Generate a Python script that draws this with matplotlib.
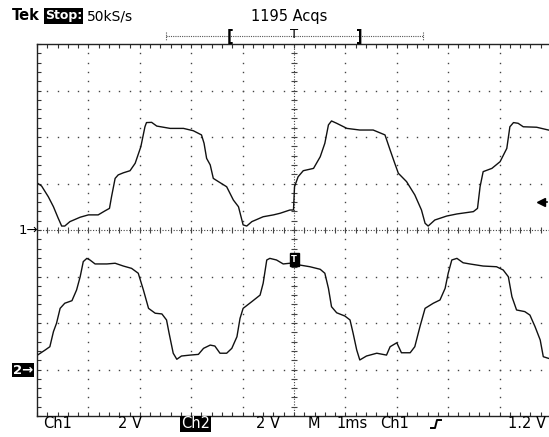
import numpy as np
import matplotlib
matplotlib.use("Agg")
import matplotlib.pyplot as plt
from matplotlib.lines import Line2D
from matplotlib.patches import Rectangle

# channel settings (V/div, ground offset in divisions from screen centre)
CH1_VDIV, CH1_OFFSET = 2.0, 0.0
CH2_VDIV, CH2_OFFSET = 2.0, -3.0
TRIG_LEVEL = 1.2  # V on Ch1

# Ch1 trace: time (ms), voltage (V)
ch1_t = [0.00, 0.09, 0.22, 0.32, 0.41, 0.48, 0.54, 0.64, 0.84, 1.00, 1.19, 1.32,
         1.41, 1.45, 1.52, 1.58, 1.68, 1.81, 1.91, 2.02, 2.10, 2.13, 2.23, 2.33,
         2.59, 2.85, 3.04, 3.20, 3.25, 3.30, 3.37, 3.43, 3.53, 3.69, 3.82, 3.92,
         4.01, 4.08, 4.18, 4.40, 4.60, 4.73, 4.92, 4.99, 5.01, 5.08, 5.18, 5.38,
         5.51, 5.60, 5.67, 5.73, 5.83, 6.03, 6.28, 6.54, 6.77, 6.87, 6.96, 7.03,
         7.19, 7.35, 7.48, 7.55, 7.61, 7.74, 7.97, 8.17, 8.49, 8.57, 8.62, 8.68,
         8.85, 9.01, 9.14, 9.20, 9.27, 9.36, 9.46, 9.72, 9.95]
ch1_v = [2.03, 1.89, 1.43, 1.00, 0.52, 0.17, 0.17, 0.36, 0.55, 0.65, 0.65, 0.82,
         0.93, 1.43, 2.22, 2.37, 2.46, 2.55, 2.87, 3.58, 4.44, 4.62, 4.63, 4.47,
         4.37, 4.37, 4.27, 4.09, 3.73, 3.08, 2.80, 2.22, 2.08, 1.86, 1.29, 1.00,
         0.22, 0.17, 0.36, 0.57, 0.65, 0.72, 0.86, 0.86, 1.86, 2.29, 2.55, 2.65,
         3.15, 3.73, 4.52, 4.69, 4.59, 4.37, 4.30, 4.30, 4.09, 3.44, 2.87, 2.44,
         2.08, 1.51, 0.86, 0.29, 0.17, 0.43, 0.60, 0.69, 0.79, 0.93, 1.86, 2.51,
         2.65, 2.94, 3.51, 4.44, 4.62, 4.59, 4.44, 4.42, 4.30]

# Ch2 trace: time (ms), voltage (V)
ch2_t = [0.01, 0.16, 0.25, 0.32, 0.38, 0.45, 0.54, 0.68, 0.77, 0.84, 0.90, 0.97,
         1.03, 1.13, 1.36, 1.52, 1.68, 1.84, 1.97, 2.07, 2.17, 2.30, 2.43, 2.52,
         2.57, 2.65, 2.72, 2.81, 2.98, 3.14, 3.24, 3.37, 3.46, 3.56, 3.69, 3.79,
         3.89, 3.95, 4.01, 4.18, 4.34, 4.40, 4.47, 4.53, 4.66, 4.79, 4.92, 5.12,
         5.31, 5.51, 5.60, 5.67, 5.73, 5.83, 5.99, 6.09, 6.15, 6.22, 6.28, 6.41,
         6.61, 6.80, 6.87, 7.00, 7.09, 7.26, 7.35, 7.45, 7.55, 7.71, 7.84, 7.94,
         8.00, 8.07, 8.17, 8.29, 8.42, 8.68, 8.94, 9.07, 9.17, 9.24, 9.33, 9.49,
         9.59, 9.69, 9.79, 9.85, 9.95]
ch2_v = [0.62, 0.84, 0.98, 1.63, 1.99, 2.63, 2.85, 2.96, 3.42, 3.99, 4.64, 4.78,
         4.71, 4.54, 4.54, 4.57, 4.45, 4.35, 4.14, 3.42, 2.63, 2.42, 2.39, 2.13,
         1.56, 0.70, 0.44, 0.58, 0.62, 0.65, 0.91, 1.05, 1.01, 0.70, 0.70, 0.91,
         1.41, 2.20, 2.63, 2.92, 3.20, 3.71, 4.71, 4.78, 4.71, 4.54, 4.57, 4.49,
         4.42, 4.31, 4.14, 3.49, 2.70, 2.44, 2.30, 2.13, 1.56, 0.84, 0.41, 0.58,
         0.70, 0.62, 0.98, 1.15, 0.72, 0.72, 0.98, 1.84, 2.63, 2.85, 2.99, 3.49,
         4.14, 4.71, 4.78, 4.59, 4.54, 4.45, 4.42, 4.28, 3.99, 3.13, 2.56, 2.49,
         2.34, 1.84, 1.27, 0.55, 0.48]

W, H = 549, 437
fig = plt.figure(figsize=(W / 100, H / 100), dpi=100)
fig.patch.set_facecolor("white")


def fx(x):
    return x / W


def fy(y):
    return 1 - y / H


# graticule box: 10 x 8 divisions
left, top, bottom, right = 37, 44, 416, 551
ax = fig.add_axes([fx(left), fy(bottom), (right - left) / W, (bottom - top) / H])
ax.set_xlim(0, 10)
ax.set_ylim(-4, 4)
for s in ("left", "top", "bottom"):
    ax.spines[s].set_linewidth(1.0)
    ax.spines[s].set_color("#222222")
ax.spines["right"].set_visible(False)

sub = np.arange(0, 10.01, 0.2)
subv = np.arange(-4, 4.01, 0.2)
ax.set_xticks(sub)
ax.set_yticks(subv)
ax.tick_params(direction="in", length=3, width=0.8, color="#333333",
               top=True, bottom=True, left=True, right=False,
               labelbottom=False, labelleft=False)

dot = dict(ls="none", marker="s", ms=1.0, mew=0, color="#444444")
for gx in [1, 2, 3, 4, 6, 7, 8, 9]:
    ax.plot(np.full_like(subv, gx), subv, **dot)
for gy in [-3, -2, -1, 1, 2, 3]:
    ax.plot(sub, np.full_like(sub, gy), **dot)

# centre lines: fine dotted with crossing ticks
ax.axhline(0, color="#444444", lw=0.8, ls=(0, (1, 1.5)))
ax.axvline(5, color="#444444", lw=0.8, ls=(0, (1, 1.5)))
ax.plot(sub, np.zeros_like(sub), ls="none", marker="|", ms=4, mew=0.8, color="#444444")
ax.plot(np.full_like(subv, 5), subv, ls="none", marker="_", ms=4, mew=0.8, color="#444444")

# waveforms
ax.plot(ch1_t, np.array(ch1_v) / CH1_VDIV + CH1_OFFSET, color="#111111", lw=1.0)
ax.plot(ch2_t, np.array(ch2_v) / CH2_VDIV + CH2_OFFSET, color="#111111", lw=1.0)

# trigger level arrow on the right edge
ytrig = TRIG_LEVEL / CH1_VDIV + CH1_OFFSET
ax.plot([9.8], [ytrig], marker="<", ms=6, color="black", clip_on=False)
ax.plot([9.8, 9.92], [ytrig, ytrig], color="black", lw=1.2, clip_on=False)

# trigger point marker
ax.add_patch(Rectangle((4.92, -0.78), 0.17, 0.29, color="black", zorder=5))
ax.text(5.005, -0.635, "T", color="white", fontsize=6, fontweight="bold",
        ha="center", va="center", zorder=6)

fs = 10.5

# channel ground markers
fig.text(fx(19), fy(230), "1\u2192", fontsize=fs - 1, ha="left", va="center")
fig.text(fx(13), fy(370), "2\u2192", fontsize=fs - 1, ha="left", va="center",
         color="white", fontweight="bold",
         bbox=dict(facecolor="black", edgecolor="none", pad=0.5))

# header
fig.text(fx(12), fy(16), "Tek", fontsize=fs, fontweight="bold", va="center")
fig.text(fx(45), fy(16), "Stop:", fontsize=9, fontweight="bold", color="white",
         va="center", bbox=dict(facecolor="black", edgecolor="none", pad=0.8))
fig.text(fx(87), fy(16), "50kS/s", fontsize=fs - 0.5, va="center")
fig.text(fx(289), fy(16), "1195 Acqs", fontsize=fs, va="center", ha="center")

# record position indicator
fig.add_artist(Line2D([fx(166), fx(423)], [fy(36), fy(36)], lw=0.8,
                      ls=(0, (1, 1)), color="#555555"))
for xe in (166, 423):
    fig.add_artist(Line2D([fx(xe), fx(xe)], [fy(32), fy(40)], lw=0.8,
                          ls=(0, (1, 1)), color="#555555"))
fig.text(fx(230), fy(36), "[", fontsize=fs, fontweight="bold", ha="center", va="center")
fig.text(fx(359), fy(36), "]", fontsize=fs, fontweight="bold", ha="center", va="center")
fig.text(fx(294), fy(35), "T", fontsize=fs - 1, ha="center", va="center")

# footer readouts
yb = fy(424)
fig.text(fx(43), yb, "Ch1", fontsize=fs, va="center")
fig.text(fx(118), yb, "2 V", fontsize=fs, va="center")
fig.text(fx(181), yb, "Ch2", fontsize=fs, va="center", color="white",
         bbox=dict(facecolor="black", edgecolor="none", pad=0.5))
fig.text(fx(256), yb, "2 V", fontsize=fs, va="center")
fig.text(fx(308), yb, "M", fontsize=fs, va="center")
fig.text(fx(336), yb, "1ms", fontsize=fs, va="center")
fig.text(fx(380), yb, "Ch1", fontsize=fs, va="center")
fig.add_artist(Line2D([fx(431), fx(435), fx(437), fx(441)],
                      [fy(428), fy(428), fy(420), fy(420)], lw=1.4, color="black"))
fig.text(fx(546), yb, "1.2 V", fontsize=fs, va="center", ha="right")

fig.savefig("out.png", dpi=100)
